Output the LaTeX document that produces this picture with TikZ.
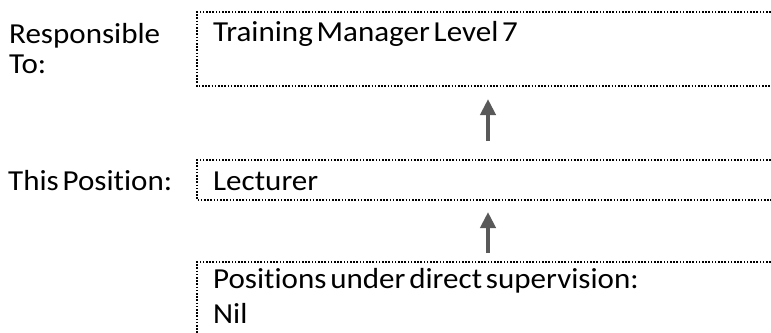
\documentclass[tikz,border=0pt]{standalone}
\usepackage{fontspec}
\setmainfont{Carlito}[FakeStretch=1.07, WordSpace={0.55,0.3,0.3}, Ligatures=NoCommon]
\usetikzlibrary{arrows.meta}
\definecolor{arrowgray}{HTML}{595959}
\tikzset{
  dotbox/.style={draw=black, line width=1.3pt, dash pattern=on 1.6pt off 1.6pt, inner sep=0pt},
  lbl/.style={anchor=base west, inner sep=0pt, font=\fontsize{29}{34}\selectfont, text=black},
  uparrow/.style={draw=arrowgray, line width=4pt, -{Triangle[width=15pt,length=16pt]}},
}
\begin{document}
\begin{tikzpicture}[x=1pt,y=-1pt]
\useasboundingbox (0,0) rectangle (771,332);
% boxes
\draw[dotbox] (790,12) -- (197,12) -- (197,86) -- (790,86);
\draw[dotbox] (790,160) -- (197,160) -- (197,200) -- (790,200);
\draw[dotbox] (790,262) -- (197,262) -- (197,340);
\coordinate (b1) at (488,86);
\coordinate (b2t) at (488,160);
\coordinate (b2b) at (488,200);
\coordinate (b3) at (488,262);
% texts
\node[lbl] (resp) at (9,43) {Responsible};
\node[lbl] (to) at (9,73) {To:};
\node[lbl] (thispos) at (8,190) {This Position:};
\node[lbl] (tm) at (213,41) {Training Manager Level 7};
\node[lbl] (lect) at (213,190) {Lecturer};
\node[lbl] (pos) at (213,288) {Positions under direct supervision:};
\node[lbl] (nil) at (213,323) {Nil};
% arrows
\draw[uparrow, shorten <=19pt, shorten >=13pt] (b2t) -- (b1);
\draw[uparrow, shorten <=9pt, shorten >=12pt] (b3) -- (b2b);
\end{tikzpicture}
\end{document}
